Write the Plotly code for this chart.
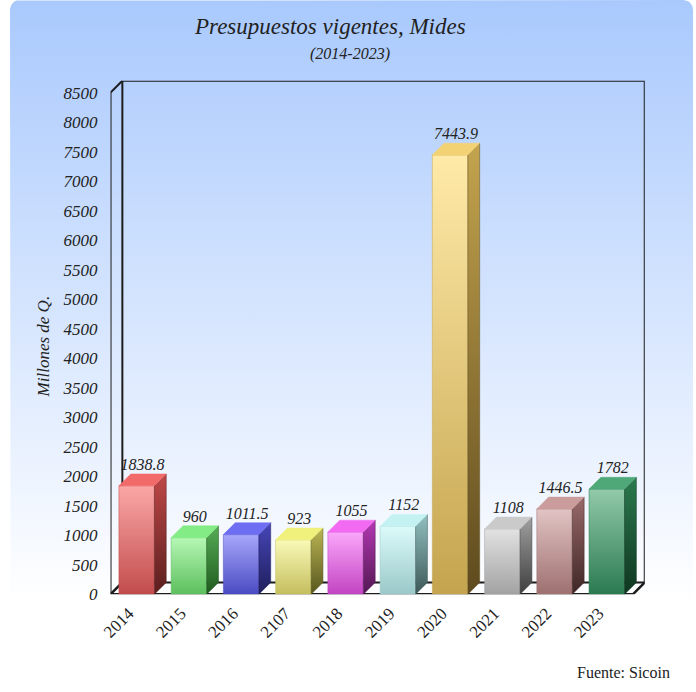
import plotly.graph_objects as go
import numpy as np

# ---- data ----
years = ["2014", "2015", "2016", "2107", "2018", "2019", "2020", "2021", "2022", "2023"]
values = [1838.8, 960, 1011.5, 923, 1055, 1152, 7443.9, 1108, 1446.5, 1782]
labels = ["1838.8", "960", "1011.5", "923", "1055", "1152", "7443.9", "1108", "1446.5", "1782"]
y_ticks = list(range(0, 8501, 500))

# colours per bar: (front top, front bottom, side top, side bottom, top face)
palette = [
    ("#fba7a7", "#c24c4c", "#c04848", "#5a1e1e", "#f26a6a"),
    ("#b6f7b6", "#5cbf5c", "#56ac56", "#1f5a1f", "#84ec84"),
    ("#a7a7fb", "#4a4ac2", "#4646b8", "#1e1e5c", "#6e6ef2"),
    ("#fafab8", "#c4be5e", "#bcb654", "#56561e", "#f0f07c"),
    ("#fba7fb", "#c244c2", "#b438b4", "#521852", "#f26af2"),
    ("#dcfafa", "#9ac8c8", "#92c0c0", "#3e5858", "#c4f2f2"),
    ("#ffeaa8", "#c4a44e", "#c4a44e", "#5e4a1e", "#f2d272"),
    ("#e2e2e2", "#a2a2a2", "#a0a0a0", "#3e3e3e", "#cacaca"),
    ("#e2c4c4", "#9e7070", "#9a6a6a", "#3e2626", "#ca9c9c"),
    ("#92caa9", "#2a7a50", "#2c7a4e", "#0f3620", "#4ea878"),
]

W, H = 696, 692
fx0, fx1 = 102, 632   # front plane px
fy0, fy1 = 603, 94    # front plane px (0 and 8500)
dpx = 12              # 3D depth px

ymax = 8500
upp_y = ymax / (fy0 - fy1)
dx = dpx / ((fx1 - fx0) / len(years))
dy = dpx * upp_y
bw = 0.34

fig = go.Figure()

# background (rounded panel with vertical gradient) on x/y
r = 10
bx0, bx1, by0, by1 = 0, 693, 0, H
pts = []
for cx, cy, a0 in [(bx1 - r, by1 - r, 0), (bx0 + r, by1 - r, 90), (bx0 + r, by0 + r, 180), (bx1 - r, by0 + r, 270)]:
    for a in np.linspace(a0, a0 + 90, 10):
        pts.append((cx + r * np.cos(np.radians(a)), cy + r * np.sin(np.radians(a))))
pts.append(pts[0])
fig.add_trace(go.Scatter(
    x=[p[0] for p in pts], y=[p[1] for p in pts], mode="lines", fill="toself",
    line=dict(width=0), xaxis="x", yaxis="y", hoverinfo="skip", showlegend=False,
    fillgradient=dict(type="vertical", start=0, stop=H,
                      colorscale=[[0, "#ffffff"], [0.13, "#ffffff"], [1, "#a9c9fd"]]),
))

def line(xs, ys, w=2):
    fig.add_trace(go.Scatter(x=xs, y=ys, mode="lines", line=dict(color="#1c1c1c", width=w),
                             xaxis="x2", yaxis="y2", hoverinfo="skip", showlegend=False,
                             cliponaxis=False))

L, R = -0.5, len(years) - 0.5
# back wall
line([L + dx, L + dx, R + dx, R + dx, L + dx], [dy, ymax + dy, ymax + dy, dy, dy])
# front left edge
line([L, L, L + dx], [0, ymax, ymax + dy])
# floor edges
line([L + dx, L, R, R + dx], [dy, 0, 0, dy], w=2.5)

# bars
for i, (v, c) in enumerate(zip(values, palette)):
    ft, fb, st, sb, tp = c
    x0, x1 = i - bw, i + bw
    # front face
    fig.add_trace(go.Scatter(
        x=[x0, x1, x1, x0, x0], y=[0, 0, v, v, 0], mode="lines", fill="toself",
        line=dict(width=0.5, color=fb), xaxis="x2", yaxis="y2", hoverinfo="skip", showlegend=False,
        fillgradient=dict(type="vertical", colorscale=[[0, fb], [1, ft]]),
    ))
    # side face
    fig.add_trace(go.Scatter(
        x=[x1, x1 + dx, x1 + dx, x1, x1], y=[0, dy, v + dy, v, 0], mode="lines", fill="toself",
        line=dict(width=0.5, color=sb), xaxis="x2", yaxis="y2", hoverinfo="skip", showlegend=False,
        fillgradient=dict(type="vertical", colorscale=[[0, sb], [1, st]]),
    ))
    # top face
    fig.add_trace(go.Scatter(
        x=[x0, x1, x1 + dx, x0 + dx, x0], y=[v, v, v + dy, v + dy, v], mode="lines", fill="toself",
        fillcolor=tp, line=dict(width=0.5, color=tp), xaxis="x2", yaxis="y2",
        hoverinfo="skip", showlegend=False,
    ))

# value labels
fig.add_trace(go.Scatter(
    x=[i + dx / 2 for i in range(len(values))], y=[v + dy for v in values],
    mode="text", text=labels, textposition="top center",
    textfont=dict(family="Liberation Serif", size=16, color="#222222", style="italic"),
    xaxis="x2", yaxis="y2", hoverinfo="skip", showlegend=False, cliponaxis=False,
))

fig.update_layout(
    width=W, height=H,
    margin=dict(l=0, r=0, t=0, b=0),
    paper_bgcolor="white", plot_bgcolor="rgba(0,0,0,0)",
    showlegend=False,
    xaxis=dict(domain=[0, 1], range=[0, W], visible=False, fixedrange=True),
    yaxis=dict(domain=[0, 1], range=[0, H], visible=False, fixedrange=True),
    xaxis2=dict(domain=[fx0 / W, (fx1 + dpx) / W], range=[L, R + dx], anchor="y2",
                tickvals=list(range(len(years))), ticktext=years, tickangle=-45,
                showgrid=False, zeroline=False, showline=False, ticks="",
                ticklabelstandoff=5, ticklabelshift=-8,
                tickfont=dict(family="Liberation Serif", size=17, color="#222222")),
    yaxis2=dict(domain=[(H - fy0) / H, (H - fy1 + dpx) / H], range=[0, ymax + dy], anchor="x2",
                tickvals=y_ticks, showgrid=False, zeroline=False, showline=False, ticks="",
                ticklabelstandoff=12,
                tickfont=dict(family="Liberation Serif", size=17, color="#222222", style="italic")),
    annotations=[
        dict(text="Presupuestos vigentes, Mides", x=325 / W, y=1 - 27 / H, xref="paper", yref="paper",
             showarrow=False, xanchor="center", yanchor="middle",
             font=dict(family="Liberation Serif", size=23, color="#222222", style="italic")),
        dict(text="(2014-2023)", x=345 / W, y=1 - 55 / H, xref="paper", yref="paper",
             showarrow=False, xanchor="center", yanchor="middle",
             font=dict(family="Liberation Serif", size=16, color="#222222", style="italic")),
        dict(text="Millones de Q.", x=34 / W, y=1 - 352 / H, xref="paper", yref="paper",
             showarrow=False, xanchor="center", yanchor="middle", textangle=-90,
             font=dict(family="Liberation Serif", size=17, color="#222222", style="italic")),
        dict(text="Fuente: Sicoin", x=672 / W, y=1 - 682 / H, xref="paper", yref="paper",
             showarrow=False, xanchor="right", yanchor="middle",
             font=dict(family="Liberation Serif", size=16, color="#222222")),
    ],
)

fig.write_html("out.html", config={"displayModeBar": False},
               post_script="document.body.style.margin='0';document.body.style.overflow='hidden';")
